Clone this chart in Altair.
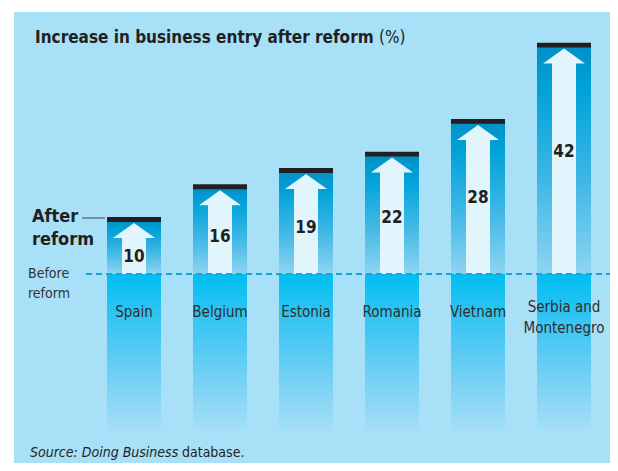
import altair as alt
import pandas as pd

# ---- data ----
countries = ["Spain", "Belgium", "Estonia", "Romania", "Vietnam", "Serbia and Montenegro"]
country_labels = ["Spain", "Belgium", "Estonia", "Romania", "Vietnam", "Serbia and\nMontenegro"]
increase = [10, 16, 19, 22, 28, 42]

title_bold = "Increase in business entry after reform"
title_unit = "(%)"
source_italic = "Source: Doing Business"
source_rest = "database."

df = pd.DataFrame({"country": countries, "label": country_labels, "value": increase})
one = pd.DataFrame({"z": [0]})

FONT = "DejaVu Sans Condensed"
BG = "#a8e0f8"
ARROW = "#e2f4fc"
DARK = "#231f20"

xs = alt.X("country:N", sort=countries, axis=None,
           scale=alt.Scale(range=[93, 577], paddingInner=0.372, paddingOuter=0))
yscale = alt.Scale(domain=[-34.68, 48.07], nice=False, zero=False)

base = alt.Chart(df).encode(x=xs)

upper_grad = alt.Gradient(gradient="linear", x1=0, y1=0, x2=0, y2=1, stops=[
    alt.GradientStop(color="#0090c6", offset=0),
    alt.GradientStop(color="#00a2d8", offset=0.2),
    alt.GradientStop(color="#40b8e6", offset=0.6),
    alt.GradientStop(color="#8fd4f1", offset=1),
])
lower_grad = alt.Gradient(gradient="linear", x1=0, y1=0, x2=0, y2=1, stops=[
    alt.GradientStop(color="#00bef1", offset=0),
    alt.GradientStop(color="#45c7f3", offset=0.35),
    alt.GradientStop(color="#82d4f4", offset=0.7),
    alt.GradientStop(color=BG, offset=0.95),
    alt.GradientStop(color=BG, offset=1),
])

upper = base.mark_bar(color=upper_grad).encode(
    y=alt.Y("value:Q", scale=yscale, axis=None), y2=alt.datum(0))

lower = base.transform_calculate(lo="-31").mark_bar(color=lower_grad).encode(
    y=alt.Y("lo:Q", scale=yscale, axis=None), y2=alt.datum(0))

cap = base.transform_calculate(ct="datum.value + 0.45", cb="datum.value - 0.45").mark_bar(
    color=DARK).encode(y=alt.Y("ct:Q", scale=yscale, axis=None), y2="cb:Q")

shaft = base.transform_calculate(st="datum.value - 3").mark_bar(width=24, color=ARROW).encode(
    y=alt.Y("st:Q", scale=yscale, axis=None), y2=alt.datum(0))

head = base.mark_point(shape="M0,0L1,0.714L-1,0.714Z", size=1764, filled=True,
                       color=ARROW, opacity=1, strokeWidth=0, yOffset=3.5).encode(
    y=alt.Y("value:Q", scale=yscale, axis=None))

vals = base.transform_calculate(ly="0.6 * datum.value - 2.9").mark_text(
    font=FONT, fontSize=17, fontWeight="bold", color=DARK).encode(
    y=alt.Y("ly:Q", scale=yscale, axis=None), text="value:Q")

names = base.transform_calculate(
    ny="indexof(datum.label, '\\n') >= 0 ? -6.1 : -7.0").mark_text(
    font=FONT, fontSize=15, color="#2e2e2e", lineBreak="\n",
    baseline="middle", lineHeight=21).encode(
    y=alt.Y("ny:Q", scale=yscale, axis=None), text="label:N")

dash = alt.Chart(one).mark_rule(strokeDash=[6, 4], strokeWidth=2.2, color="#1aa3dd").encode(
    y=alt.datum(0), x=alt.value(72), x2=alt.value(596))

t1 = alt.Chart(one).mark_text(text=title_bold, font=FONT, fontSize=17, fontWeight="bold",
                               color=DARK, align="left", baseline="middle").encode(
    x=alt.value(21), y=alt.value(26))
t2 = alt.Chart(one).mark_text(text=title_unit, font=FONT, fontSize=17,
                               color=DARK, align="left", baseline="middle").encode(
    x=alt.value(365), y=alt.value(26))

after = alt.Chart(one).mark_text(text="After\nreform", lineBreak="\n", font=FONT, fontSize=18,
                                  fontWeight="bold", color=DARK, align="left",
                                  baseline="middle", lineHeight=23).encode(
    x=alt.value(18), y=alt.value(205))
leader = alt.Chart(one).mark_rule(color="#444444", strokeWidth=1).encode(
    x=alt.value(68), x2=alt.value(91), y=alt.value(206))
before = alt.Chart(one).mark_text(text="Before\nreform", lineBreak="\n", font=FONT, fontSize=14,
                                   color="#333333", align="left", baseline="middle",
                                   lineHeight=20).encode(
    x=alt.value(14), y=alt.value(262))

s1 = alt.Chart(one).mark_text(text=source_italic, font=FONT, fontSize=14, fontStyle="italic",
                               color=DARK, align="left", baseline="middle").encode(
    x=alt.value(16), y=alt.value(441))
s2 = alt.Chart(one).mark_text(text=source_rest, font=FONT, fontSize=14,
                               color=DARK, align="left", baseline="middle").encode(
    x=alt.value(168), y=alt.value(441))

chart = alt.layer(lower, upper, cap, shaft, head, vals, names, dash,
                  t1, t2, after, leader, before, s1, s2).properties(
    width=596, height=451, autosize="none",
    padding={"left": 6, "top": 4, "right": 0, "bottom": 0},
    background="white",
).configure_view(fill=BG, strokeWidth=0)

chart.save("out.html", embed_options={"renderer": "svg", "actions": False})
